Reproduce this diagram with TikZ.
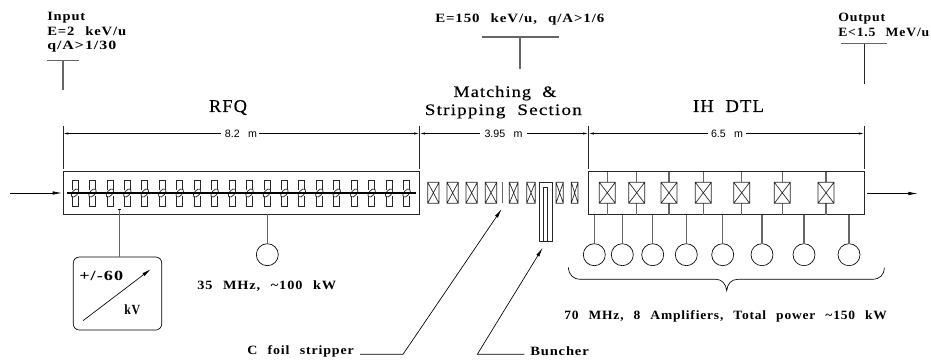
\documentclass[tikz,border=0pt]{standalone}
\usepackage{fontspec}
\setmainfont{Liberation Serif}
\newfontfamily\lblfont[LetterSpace=6,WordSpace=2.4]{Liberation Serif Bold}
\newfontfamily\ttlfont[LetterSpace=6,WordSpace=2,FakeBold=0.25]{Liberation Serif}
\newfontfamily\dimfont{Liberation Sans}
\usetikzlibrary{arrows.meta}
\newsavebox\fitbox
\newcommand{\fitw}[2]{\sbox\fitbox{#2}\pgfmathsetmacro\fitratio{#1*0.75/\the\wd\fitbox}\scalebox{\fitratio}[1]{\usebox\fitbox}}
\tikzset{
  lbl/.style={inner sep=0pt,anchor=base west,font=\lblfont\fontsize{9.5}{11}\selectfont},
  ttl/.style={inner sep=0pt,anchor=base,font=\ttlfont\fontsize{13.5}{15}\selectfont},
  sub/.style={inner sep=0pt,anchor=base,font=\ttlfont\fontsize{12}{13}\selectfont},
  dimlbl/.style={inner sep=0pt,anchor=center,font=\dimfont\fontsize{8}{9}\selectfont},
  ln/.style={line width=0.6pt,black!85},
  grayln/.style={line width=0.8pt,black!60},
  dimarrow/.style={line width=0.5pt,-{Latex[length=4pt,width=1.6pt]}},
  arrowln/.style={line width=0.5pt,-{Latex[length=7pt,width=2.6pt]}},
  amp/.style={circle,draw,line width=0.5pt,minimum size=16.5pt,inner sep=0pt},
  mag/.style={line width=0.5pt,black!85},
  quad/.style={line width=0.55pt,black!85}
}
\newcommand{\xbox}[4]{% x0 y0 x1 y1
  \draw[mag] (#1,#2) rectangle (#3,#4) (#1,#2) -- (#3,#4) (#1,#4) -- (#3,#2);}
\begin{document}
\begin{tikzpicture}[x=0.75pt,y=-0.75pt]
\useasboundingbox (0,0) rectangle (931,360);
\fill[white] (0,0) rectangle (931,360);

% input / output / mid labels
\node[lbl] (inA) at (47,21) {\fitw{38}{Input}};
\node[lbl] (inB) at (47,36) {\fitw{79}{E=2 keV/u}};
\node[lbl] (inC) at (47,50) {\fitw{69}{q/A>1/30}};
\draw[grayln] (47,60.5) -- (79,60.5) (63,60.5) -- (63,90);
\node[lbl] (mid) at (435,22.5) {\fitw{169}{E=150 keV/u, q/A>1/6}};
\draw[grayln] (481.7,37) -- (558.7,37) (520,37) -- (520,69);
\node[lbl] (outA) at (838,22) {\fitw{47}{Output}};
\node[lbl] (outB) at (838,36.5) {\fitw{91}{E<1.5 MeV/u}};
\draw[grayln] (841,43.7) -- (887,43.7);
\draw[ln] (864.3,43.7) -- (864.3,84);

% titles
\node[ttl] (rfq) at (228,112) {\fitw{38}{RFQ}};
\node[ttl] (ihdtl) at (728.5,112) {\fitw{71}{IH DTL}};
\node[sub] (ms1) at (505,97) {\fitw{103}{Matching \&}};
\node[sub] (ms2) at (503.3,115) {\fitw{157}{Stripping Section}};

% dimension lines
\foreach \x in {63,419.5,588.5,864.3} \draw[ln] (\x,125.5) -- (\x,168.5);
\node[dimlbl] (d1) at (241,134) {8.2\hspace{4pt} m};
\node[dimlbl] (d2) at (503.5,134) {3.95\hspace{4pt} m};
\node[dimlbl] (d3) at (727,134) {6.5\hspace{4pt} m};
\coordinate (e1) at (63,133.5); \coordinate (e2) at (419.5,133.5);
\coordinate (e3) at (588.5,133.5); \coordinate (e4) at (864.3,133.5);
\coordinate (g1a) at (221,133.5); \coordinate (g1b) at (259,133.5);
\coordinate (g2a) at (480,133.5); \coordinate (g2b) at (527,133.5);
\coordinate (g3a) at (708,133.5); \coordinate (g3b) at (746,133.5);
\draw[dimarrow] (g1a) -- (e1); \draw[dimarrow] (g1b) -- (e2);
\draw[dimarrow] (g2a) -- (e2); \draw[dimarrow] (g2b) -- (e3);
\draw[dimarrow] (g3a) -- (e3); \draw[dimarrow] (g3b) -- (e4);

% RFQ
\draw[ln] (63,171.5) rectangle (419.5,214);
\foreach \i in {0,...,19} {
  \pgfmathsetmacro{\cx}{75+17.45*\i}
  \draw[quad] (\cx-3,190) -- (\cx-3,180) -- (\cx+3,180) -- (\cx+3,190);
  \draw[quad] (\cx-3,196) -- (\cx-3,206.5) -- (\cx+3,206.5) -- (\cx+3,196);
  \draw[quad,rotate around={50:(\cx,193)}] (\cx,193) ellipse (5 and 2.6);
}
\draw[line width=1.8pt,black] (67,193) -- (416,193);

% beam arrows
\coordinate (b0) at (10,193); \coordinate (b1) at (62,193);
\coordinate (b2) at (867.3,193.5); \coordinate (b3) at (917.7,193.5);
\draw[arrowln] (b0) -- (b1);
\draw[arrowln] (b2) -- (b3);

% HV box
\node[draw,line width=0.5pt,rounded corners=4.5pt,minimum width=66.3pt,minimum height=54.75pt,inner sep=0pt] (hv) at (117.5,293.5) {};
\coordinate (hvt) at (119.3,209);
\draw[grayln] (hvt) -- (hv.north -| hvt);
\draw[line width=0.5pt] (117.8,209) -- (120.8,209);
\node[lbl,font=\lblfont\fontsize{10.5}{12}\selectfont] (hvA) at (79,280) {\fitw{44}{+/-60}};
\node[lbl,font=\lblfont\fontsize{10.5}{12}\selectfont] (hvB) at (124,314) {\fitw{16}{kV}};
\coordinate (a0) at (83,320.7); \coordinate (a1) at (151,269);
\draw[arrowln] (a0) -- (a1);

% RFQ amplifier
\node[amp] (ra) at (267.3,254.7) {};
\coordinate (rat) at (267.3,214);
\draw[grayln] (rat) -- (ra);
\node[lbl] (rl) at (197,289) {\fitw{139}{35 MHz, \textasciitilde100 kW}};

% Matching section magnets
\xbox{427.7}{182.3}{439}{203.3}
\xbox{447}{182.3}{458.3}{203.3}
\xbox{466}{182.3}{477.3}{203.3}
\xbox{485.3}{182.3}{496.7}{203.3}
\xbox{509.3}{182.3}{518}{203.3}
\xbox{526.7}{182.3}{535.3}{203.3}
\xbox{556}{182.3}{563.3}{203.3}
\xbox{571.3}{182.3}{578}{203.3}
\draw[grayln] (502.7,182.3) -- (502.7,203.3);
\draw[mag] (539.3,182.3) rectangle (552.7,241);
\draw[mag] (543.3,241) -- (543.3,187.3) -- (547.7,187.3) -- (547.7,241);

% pointers
\node[lbl] (cf) at (247,354) {\fitw{106.5}{C foil stripper}};
\node[lbl] (bu) at (530,355) {\fitw{58.5}{Buncher}};
\coordinate (cf0) at (360,354.3); \coordinate (cf1) at (403,354.3); \coordinate (cf2) at (501.7,209);
\coordinate (bu0) at (524.3,354.3); \coordinate (bu1) at (477.3,354.3); \coordinate (bu2) at (542.7,247.7);
\draw[arrowln] (cf0) -- (cf1) -- (cf2);
\draw[arrowln] (bu0) -- (bu1) -- (bu2);

% IH DTL
\draw[ln] (588.5,171.5) rectangle (864.3,214.5);
\foreach \x in {607.3,636.7,669,703.3,741.7,782.3,826} {
  \draw[grayln] (\x,171.5) -- (\x,214.5);
  \fill[white] (\x-8,182.3) rectangle (\x+8,203.3);
  \xbox{\x-8}{182.3}{\x+8}{203.3}
}
\foreach \n/\x in {1/594.3,2/622.3,3/652.7,4/686.3,5/722.7,6/762,7/804,8/849} {
  \node[amp] (c\n) at (\x,254.7) {};
  \coordinate (t\n) at (\x,214.5);
  \draw[grayln] (t\n) -- (c\n);
}

% brace
\draw[line width=0.5pt] (568.3,267.3) .. controls (569,275) and (573,279.3) .. (581,279.3)
  -- (716,279.3) .. controls (722,279.3) and (726,284) .. (726.7,290.7)
  .. controls (727.4,284) and (731,279.3) .. (738,279.3)
  -- (872,279.3) .. controls (880,279.3) and (884,275) .. (884.3,267.7);
\node[lbl] (il) at (564,319) {\fitw{322.7}{70 MHz, 8 Amplifiers, Total power \textasciitilde150 kW}};
\end{tikzpicture}
\end{document}
